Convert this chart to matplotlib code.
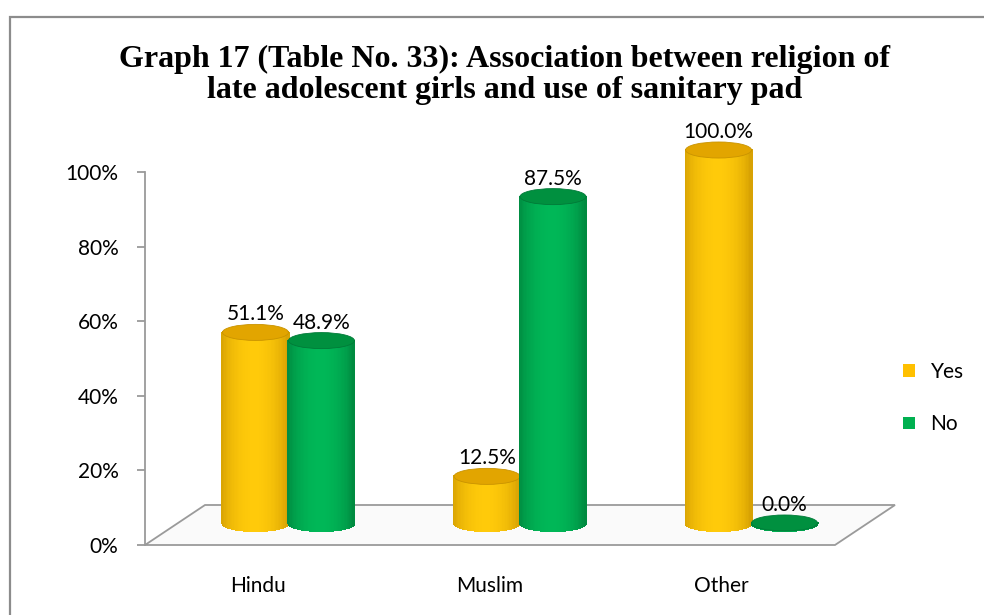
import numpy as np
import matplotlib
matplotlib.use("Agg")
import matplotlib.pyplot as plt
from matplotlib.collections import PolyCollection
from matplotlib.patches import Ellipse, Polygon, Rectangle, Patch
from matplotlib.transforms import ScaledTranslation

# Data
categories = ['Hindu', 'Muslim', 'Other']
series_names = ['Yes', 'No']
yes_values = [51.1, 12.5, 100.0]
no_values = [48.9, 87.5, 0.0]
y_ticks = [0, 20, 40, 60, 80, 100]

# Styles
FONT = 'Lato'
YES = dict(light='#FFCA0A', dark='#C99300', top='#E2A500', legend='#FFC000')
NO = dict(light='#00B757', dark='#007A38', top='#00903F', legend='#00B050')
GRID_GRAY = '#9A9A9A'

BAR_W = 0.285
ELL_H = 4.3          # height of the cylinder ellipses, in % units
DEPTH = (0.6, 0.4)   # depth of the 3D floor, inches
BAR_DEPTH = (0.3, 0.22)

fig = plt.figure(figsize=(9.84, 6.15), dpi=100)
ax = fig.add_axes([145 / 984, 1 - 545 / 615, 690 / 984, 373 / 615])
ax.set_xlim(-0.49, 2.49)
ax.set_ylim(0, 100)

for s in ['top', 'right', 'bottom']:
    ax.spines[s].set_visible(False)
ax.spines['left'].set_color(GRID_GRAY)
ax.spines['left'].set_linewidth(1.3)

ax.set_yticks(y_ticks)
ax.set_yticklabels([f'{v}%' for v in y_ticks], fontsize=15, family=FONT)
ax.tick_params(axis='y', direction='out', length=6, width=1.3, color=GRID_GRAY, pad=13)
ax.set_xticks(range(len(categories)))
ax.set_xticklabels(categories, fontsize=15, family=FONT)
ax.tick_params(axis='x', length=0, pad=22)

# floor of the 3D chart
back = ax.transData + ScaledTranslation(DEPTH[0], DEPTH[1], fig.dpi_scale_trans)
x0, x1 = ax.get_xlim()
front_pts = np.array([[x0, 0], [x1, 0]])
back_pts = ax.transData.inverted().transform(back.transform(front_pts))
floor = Polygon([front_pts[0], front_pts[1], back_pts[1], back_pts[0]], closed=True,
                facecolor='#FAFAFA', edgecolor=GRID_GRAY, linewidth=1.3,
                clip_on=False, zorder=1)
ax.add_patch(floor)

bar_trans = ax.transData + ScaledTranslation(BAR_DEPTH[0], BAR_DEPTH[1], fig.dpi_scale_trans)


def cylinder(xc, h, style, n=48):
    half = BAR_W / 2
    edges = np.linspace(xc - half, xc + half, n + 1)
    arc = lambda x: -ELL_H / 2 * np.sqrt(np.clip(1 - ((x - xc) / half) ** 2, 0, 1))
    light = np.array(matplotlib.colors.to_rgb(style['light']))
    dark = np.array(matplotlib.colors.to_rgb(style['dark']))
    verts, cols = [], []
    for a, b in zip(edges[:-1], edges[1:]):
        xs = np.linspace(a, b, 4)
        poly = [(x, arc(x)) for x in xs] + [(b, h), (a, h)]
        verts.append(poly)
        t = ((a + b) / 2 - (xc - half)) / BAR_W
        s = np.sin(np.pi * np.clip(t * 0.95 + 0.03, 0, 1)) ** 0.55
        cols.append(dark + (light - dark) * s)
    pc = PolyCollection(verts, facecolors=cols, edgecolors=cols, linewidths=0.8,
                        antialiased=False, transform=bar_trans, clip_on=False, zorder=3)
    ax.add_collection(pc)
    ax.add_patch(Ellipse((xc, h), BAR_W, ELL_H, facecolor=style['top'],
                         edgecolor=style['dark'], linewidth=0.6,
                         transform=bar_trans, clip_on=False, zorder=3))


for i, cat in enumerate(categories):
    for val, style, dx in [(yes_values[i], YES, -0.1425), (no_values[i], NO, 0.1425)]:
        cylinder(i + dx, val, style)
        ax.annotate(f'{val:.1f}%', xy=(i + dx, val), xycoords=bar_trans,
                    xytext=(0, 13), textcoords='offset points',
                    ha='center', va='center', fontsize=15, family=FONT,
                    color='black', zorder=5, annotation_clip=False)

# legend
handles = [Patch(facecolor=YES['legend']), Patch(facecolor=NO['legend'])]
fig.legend(handles, series_names, loc='center left',
           bbox_to_anchor=(893 / 984, 1 - 398 / 615), frameon=False,
           prop={'family': FONT, 'size': 15}, borderpad=0,
           handlelength=0.55, handleheight=0.55, handletextpad=0.75,
           labelspacing=1.55)

# title
fig.text(0.513, 1 - 75 / 615,
         'Graph 17 (Table No. 33): Association between religion of\n'
         'late adolescent girls and use of sanitary pad',
         ha='center', va='center', fontsize=23, fontweight='bold',
         family='Liberation Serif', linespacing=1.08)

# outer frame of the chart area
fig.add_artist(Rectangle((10 / 984, -0.1), 1.2, 1.1 - 17 / 615, transform=fig.transFigure,
                         fill=False, edgecolor='#8C8C8C', linewidth=1.6))

fig.savefig('out.png', dpi=100)
